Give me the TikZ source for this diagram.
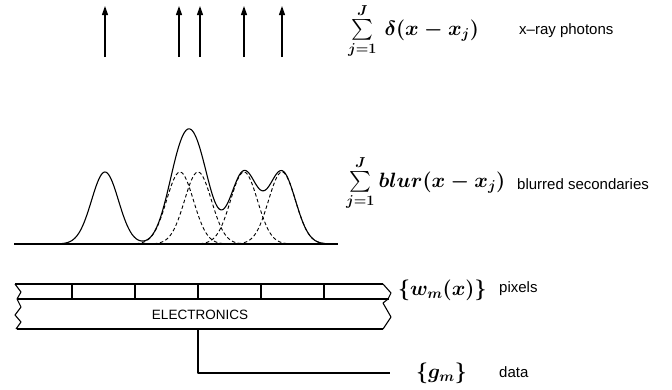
\documentclass[tikz,border=0pt]{standalone}
\usepackage{amsmath}
\usepackage{exscale}
\usepackage{fontspec}
\newfontfamily\labfont{Liberation Sans}
\usetikzlibrary{arrows.meta}
\begin{document}
\begin{tikzpicture}[x=1pt,y=-1pt,line join=round,
  stroke/.style={line width=1.1pt},
  photon/.style={line width=1.2pt,-{Triangle[length=9pt,width=6pt]}},
  gauss/.style={line width=0.9pt,dash pattern=on 3.5pt off 2.5pt},
  lab/.style={font=\labfont\fontsize{15}{17}\selectfont,inner sep=0pt,anchor=west},
  eq/.style={font=\fontsize{21.5}{24}\selectfont\boldmath,inner sep=0pt,anchor=west},
  pixdiv/.style={line width=1.1pt}]
\useasboundingbox (0,0) rectangle (672,389);
% photons
\foreach \px [count=\i] in {105,179,200,244,282}{
  \coordinate (pb\i) at (\px,57);
  \coordinate (pt\i) at (\px,6);
  \draw[photon] (pb\i) -- (pt\i);
}
\node[eq] (eq1) at (348,31) {$\sum\limits_{j=1}^{J}\,\delta(x - x_j)$};
\node[lab] (l1) at (519,31) {x–ray photons};
% blurred secondaries
\coordinate (bl) at (14,244);
\coordinate (br) at (338,244);
\draw[stroke] (bl) -- (br);
\draw[stroke] plot[domain=58:328,samples=220,smooth]
  (\x,{244-72*(exp(-min(((\x-105)/19.03)^2,12))+exp(-min(((\x-180)/19.03)^2,12))
   +exp(-min(((\x-198)/19.03)^2,12))+exp(-min(((\x-244)/19.03)^2,12))
   +exp(-min(((\x-282)/19.03)^2,12)))});
\foreach \c in {180,198,244,282}{
  \draw[gauss] plot[domain=\c-44:\c+44,samples=60,smooth]
    (\x,{244-72*exp(-((\x-\c)/19.03)^2)});
}
\node[eq] (eq2) at (346,183) {$\sum\limits_{j=1}^{J} blur(x - x_j)$};
\node[lab] (l2) at (517,184) {blurred secondaries};
% detector strip
\draw[stroke] (15,284) -- (383,284);
\draw[line width=1.6pt] (17,299) -- (389,299);
\draw[stroke] (17,329) -- (383,329);
\draw[stroke] (15,284) -- (21,292) -- (17,299) -- (21,307) -- (15,315) -- (21,322) -- (16,329);
\draw[stroke] (383,284) -- (391,293) -- (388,299) -- (383,303) -- (391,317) -- (383,329);
\foreach \dx in {72,135,198,261,324}{
  \draw[pixdiv] (\dx,284) -- (\dx,299);
}
\node[font=\labfont\fontsize{13.5}{16}\selectfont,inner sep=0pt] (elec) at (200,315) {ELECTRONICS};
\node[eq,font=\fontsize{21}{24}\selectfont\boldmath] (eq3) at (398,290) {$\{w_m(x)\}$};
\node[lab] (l3) at (499,289) {pixels};
% output
\coordinate (eout) at (198,329);
\coordinate (dend) at (390,373);
\draw[stroke] (eout) |- (dend);
\node[eq,font=\fontsize{21}{24}\selectfont\boldmath] (eq4) at (416,373) {$\{g_m\}$};
\node[lab] (l4) at (499,372) {data};
\end{tikzpicture}
\end{document}
